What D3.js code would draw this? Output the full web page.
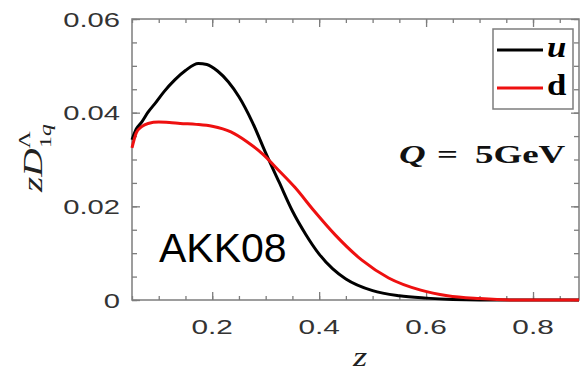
<!DOCTYPE html>
<html>
<head>
<meta charset="utf-8">
<script src="https://cdn.jsdelivr.net/npm/d3@7"></script>
<style>
  body { margin: 0; background: #fff; }
  svg { display: block; }
</style>
</head>
<body>
<svg id="chart" width="580" height="371"></svg>
<script>
// u and d curves
const uZ = [0.05, 0.058, 0.067, 0.08, 0.094, 0.11, 0.13, 0.15, 0.174, 0.19, 0.21, 0.23, 0.25, 0.275, 0.30, 0.325, 0.35, 0.375, 0.40, 0.425, 0.45, 0.50, 0.55, 0.60, 0.65, 0.70, 0.886];
const uVal = [0.0342, 0.0365, 0.0378, 0.0401, 0.0421, 0.0445, 0.0470, 0.0490, 0.0505, 0.0503, 0.0489, 0.0466, 0.0434, 0.0380, 0.0314, 0.0252, 0.0190, 0.0140, 0.0098, 0.0067, 0.0045, 0.0020, 0.0009, 0.0004, 0.0001, 0.0, 0.0];

const dZ = [0.05, 0.058, 0.068, 0.08, 0.1, 0.12, 0.14, 0.17, 0.2, 0.235, 0.265, 0.295, 0.325, 0.355, 0.39, 0.43, 0.48, 0.53, 0.59, 0.64, 0.70, 0.76, 0.886];
const dVal = [0.0325, 0.0357, 0.0370, 0.0377, 0.0380, 0.0379, 0.0377, 0.0375, 0.0371, 0.0359, 0.0338, 0.0311, 0.0276, 0.0240, 0.0191, 0.0139, 0.0085, 0.0047, 0.0021, 0.0009, 0.0003, 0.0, 0.0];

const xTicks = [0.2, 0.4, 0.6, 0.8];
const xTickLabels = ["0.2", "0.4", "0.6", "0.8"];
const yTicks = [0, 0.02, 0.04, 0.06];
const yTickLabels = ["0", "0.02", "0.04", "0.06"];
const xMinor = d3.range(0.05, 0.886, 0.05);
const yMinor = d3.range(0, 0.0601, 0.005);

const seriesNames = ["u", "d"];
const seriesColors = ["#000000", "#ee1010"];

const svg = d3.select("#chart");
const mLeft = 132, mRight = 579, mTop = 19, mBottom = 300;
const frameColor = "#7d7d7d";

const x = d3.scaleLinear().domain([0.05, 0.886]).range([mLeft, mRight]);
const y = d3.scaleLinear().domain([0, 0.06]).range([mBottom, mTop]);

// ticks on all four sides, pointing inward
function addAxis(make, scale, values, size, tr) {
  const g = svg.append("g")
    .attr("transform", tr)
    .call(make(scale).tickValues(values).tickSize(size).tickFormat(""));
  g.select(".domain").remove();
  g.selectAll(".tick line").attr("stroke", frameColor).attr("stroke-width", 1.3);
}

addAxis(d3.axisBottom, x, xMinor, -4, `translate(0,${mBottom})`);
addAxis(d3.axisBottom, x, xTicks, -8, `translate(0,${mBottom})`);
addAxis(d3.axisTop, x, xMinor, -4, `translate(0,${mTop})`);
addAxis(d3.axisTop, x, xTicks, -8, `translate(0,${mTop})`);
addAxis(d3.axisLeft, y, yMinor, -5, `translate(${mLeft},0)`);
addAxis(d3.axisLeft, y, yTicks, -8, `translate(${mLeft},0)`);
addAxis(d3.axisRight, y, yMinor, -5, `translate(${mRight},0)`);
addAxis(d3.axisRight, y, yTicks, -8, `translate(${mRight},0)`);

// frame
svg.append("rect")
  .attr("x", mLeft).attr("y", mTop)
  .attr("width", mRight - mLeft).attr("height", mBottom - mTop)
  .attr("fill", "none")
  .attr("stroke", frameColor)
  .attr("stroke-width", 1.5);

// tick labels (the original figure is stretched sideways)
xTicks.forEach((t, i) => {
  svg.append("text")
    .attr("transform", `translate(${x(t)},334) scale(1.42,1)`)
    .attr("text-anchor", "middle")
    .attr("font-family", "Liberation Sans, Arial, sans-serif")
    .attr("font-size", 21)
    .attr("fill", "#333")
    .text(xTickLabels[i]);
});
yTicks.forEach((t, i) => {
  svg.append("text")
    .attr("transform", `translate(120,${y(t) + 7.5}) scale(1.46,1)`)
    .attr("text-anchor", "end")
    .attr("font-family", "Liberation Sans, Arial, sans-serif")
    .attr("font-size", 20)
    .attr("fill", "#333")
    .text(yTickLabels[i]);
});

// curves
const line = d3.line()
  .x((d) => x(d[0]))
  .y((d) => y(d[1]))
  .curve(d3.curveMonotoneX);

const series = [d3.zip(uZ, uVal), d3.zip(dZ, dVal)];
svg.append("g")
  .selectAll("path")
  .data(series)
  .join("path")
  .attr("d", line)
  .attr("fill", "none")
  .attr("stroke", (d, i) => seriesColors[i])
  .attr("stroke-width", 3)
  .attr("stroke-linejoin", "round");

// legend
const leg = svg.append("g");
leg.append("rect")
  .attr("x", 493).attr("y", 29)
  .attr("width", 80).attr("height", 80)
  .attr("fill", "#fff")
  .attr("stroke", frameColor)
  .attr("stroke-width", 1.5);
[50, 88].forEach((ly, i) => {
  leg.append("line")
    .attr("x1", 497).attr("x2", 543)
    .attr("y1", ly).attr("y2", ly)
    .attr("stroke", seriesColors[i])
    .attr("stroke-width", 3);
  leg.append("text")
    .attr("transform", `translate(547,${ly + 7}) scale(1.2,1)`)
    .attr("font-family", "Liberation Serif, serif")
    .attr("font-size", 29)
    .attr("font-weight", "bold")
    .attr("font-style", i === 0 ? "italic" : "normal")
    .text(seriesNames[i]);
});

// Q = 5GeV
const qg = svg.append("g").attr("font-family", "Liberation Serif, serif")
  .attr("font-size", 26).attr("fill", "#111");
qg.append("text").attr("transform", "translate(399,163) scale(1.42,1)")
  .attr("font-style", "italic").attr("font-weight", "bold").text("Q");
qg.append("text").attr("transform", "translate(437,163) scale(1.42,1)")
  .attr("font-weight", "bold").text("=");
qg.append("text").attr("transform", "translate(475,163) scale(1.42,1)")
  .attr("font-weight", "bold").text("5GeV");

// AKK08 label
svg.append("text")
  .attr("x", 159).attr("y", 262)
  .attr("font-family", "Liberation Sans, Arial, sans-serif")
  .attr("font-size", 41)
  .attr("fill", "#000")
  .text("AKK08");

// axis titles
svg.append("text")
  .attr("transform", "translate(360,366) scale(1.3,1)")
  .attr("text-anchor", "middle")
  .attr("font-family", "Liberation Serif, serif")
  .attr("font-style", "italic")
  .attr("font-size", 28)
  .attr("fill", "#222")
  .text("z");

const yt = svg.append("text")
  .attr("transform", "translate(42,192) rotate(-90) scale(1.4,1)")
  .attr("font-family", "Liberation Serif, serif")
  .attr("font-size", 28)
  .attr("fill", "#222");
yt.append("tspan").attr("font-style", "italic").text("zD");
yt.append("tspan").attr("font-size", 17).attr("dy", -12).text("Λ");
yt.append("tspan").attr("font-size", 17).attr("dx", -12).attr("dy", 21).text("1");
yt.append("tspan").attr("font-size", 17).attr("font-style", "italic").text("q");
</script>
</body>
</html>
